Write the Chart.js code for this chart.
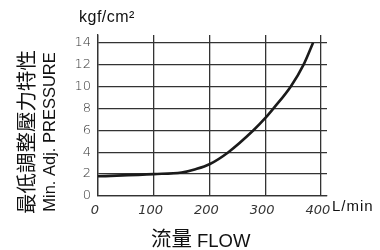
<!DOCTYPE html>
<html>
<head>
<meta charset="utf-8">
<script src="https://cdn.jsdelivr.net/npm/chart.js@4"></script>
<style>
  html, body { margin: 0; padding: 0; background: #fff; }
  #wrap { width: 380px; height: 250px; }
</style>
</head>
<body>
<div id="wrap"><canvas id="pressureChart" width="380" height="250"></canvas></div>
<script>
// Data
const flowValues = [0, 100, 150, 175, 200, 234, 279, 300, 315, 346, 369, 386];
const pressureValues = [1.8, 2.0, 2.15, 2.45, 2.9, 4.0, 6.0, 7.1, 8.0, 10.0, 12.0, 14.0];
const xTicks = [0, 100, 200, 300, 400];
const yTicks = [0, 2, 4, 6, 8, 10, 12, 14];

const gridColor = '#333';
const tickFont = { family: 'DejaVu Sans', size: 13, weight: '200' };

// Extra labels: units and axis titles
const labelPlugin = {
  id: 'labels',
  afterDraw(chart) {
    const c = chart.ctx;
    c.save();
    c.fillStyle = '#111';
    c.textBaseline = 'alphabetic';

    c.font = '16px "Liberation Sans", Arial, sans-serif';
    c.textAlign = 'left';
    c.letterSpacing = '0.5px';
    c.fillText('kgf/cm²', 79, 21.5);
    c.font = '15px "Liberation Sans", Arial, sans-serif';
    c.letterSpacing = '1px';
    c.fillText('L/min', 332, 211);
    c.letterSpacing = '0px';

    // x title: CJK + latin
    c.font = '20.5px "Noto Sans CJK TC", sans-serif';
    c.fillText('流量', 151, 246);
    c.font = '18.5px "Liberation Sans", Arial, sans-serif';
    c.fillText('FLOW', 197, 246.5);

    // rotated y title, two lines
    c.translate(0, 132);
    c.rotate(-Math.PI / 2);
    c.textAlign = 'center';
    c.textBaseline = 'middle';
    c.font = '20.5px "Noto Sans CJK TC", sans-serif';
    c.fillText('最低調整壓力特性', 0, 26.5);
    c.textBaseline = 'alphabetic';
    c.font = '16.5px "Liberation Sans", Arial, sans-serif';
    c.fillText('Min. Adj. PRESSURE', 0, 55.3);
    c.restore();
  }
};

const ctx = document.getElementById('pressureChart').getContext('2d');
const chart = new Chart(ctx, {
  type: 'line',
  data: {
    datasets: [{
      data: flowValues.map((f, i) => ({ x: f, y: pressureValues[i] })),
      borderColor: '#1a1a1a',
      borderWidth: 2.6,
      pointRadius: 0,
      fill: false,
      cubicInterpolationMode: 'monotone'
    }]
  },
  options: {
    responsive: false,
    animation: false,
    layout: { padding: { top: 35, right: 53, left: 0, bottom: 0 } },
    plugins: { legend: { display: false }, tooltip: { enabled: false } },
    scales: {
      x: {
        type: 'linear',
        min: 0,
        max: 411,
        afterBuildTicks: s => { s.ticks = xTicks.map(v => ({ value: v })); },
        afterFit: s => { s.height = 54; },
        grid: { color: gridColor, lineWidth: 1.3, drawTicks: false },
        border: { color: gridColor, width: 1.3 },
        ticks: {
          padding: 7,
          labelOffset: -3,
          color: '#333',
          font: { ...tickFont, style: 'italic' },
          maxRotation: 0
        }
      },
      y: {
        min: 0,
        max: 14.7,
        afterBuildTicks: s => { s.ticks = yTicks.map(v => ({ value: v })); },
        afterFit: s => { s.width = 98; },
        grid: { color: gridColor, lineWidth: 1.3, drawTicks: false },
        border: { color: gridColor, width: 1.3 },
        ticks: {
          padding: 7,
          color: '#333',
          font: tickFont
        }
      }
    }
  },
  plugins: [labelPlugin]
});
</script>
</body>
</html>
